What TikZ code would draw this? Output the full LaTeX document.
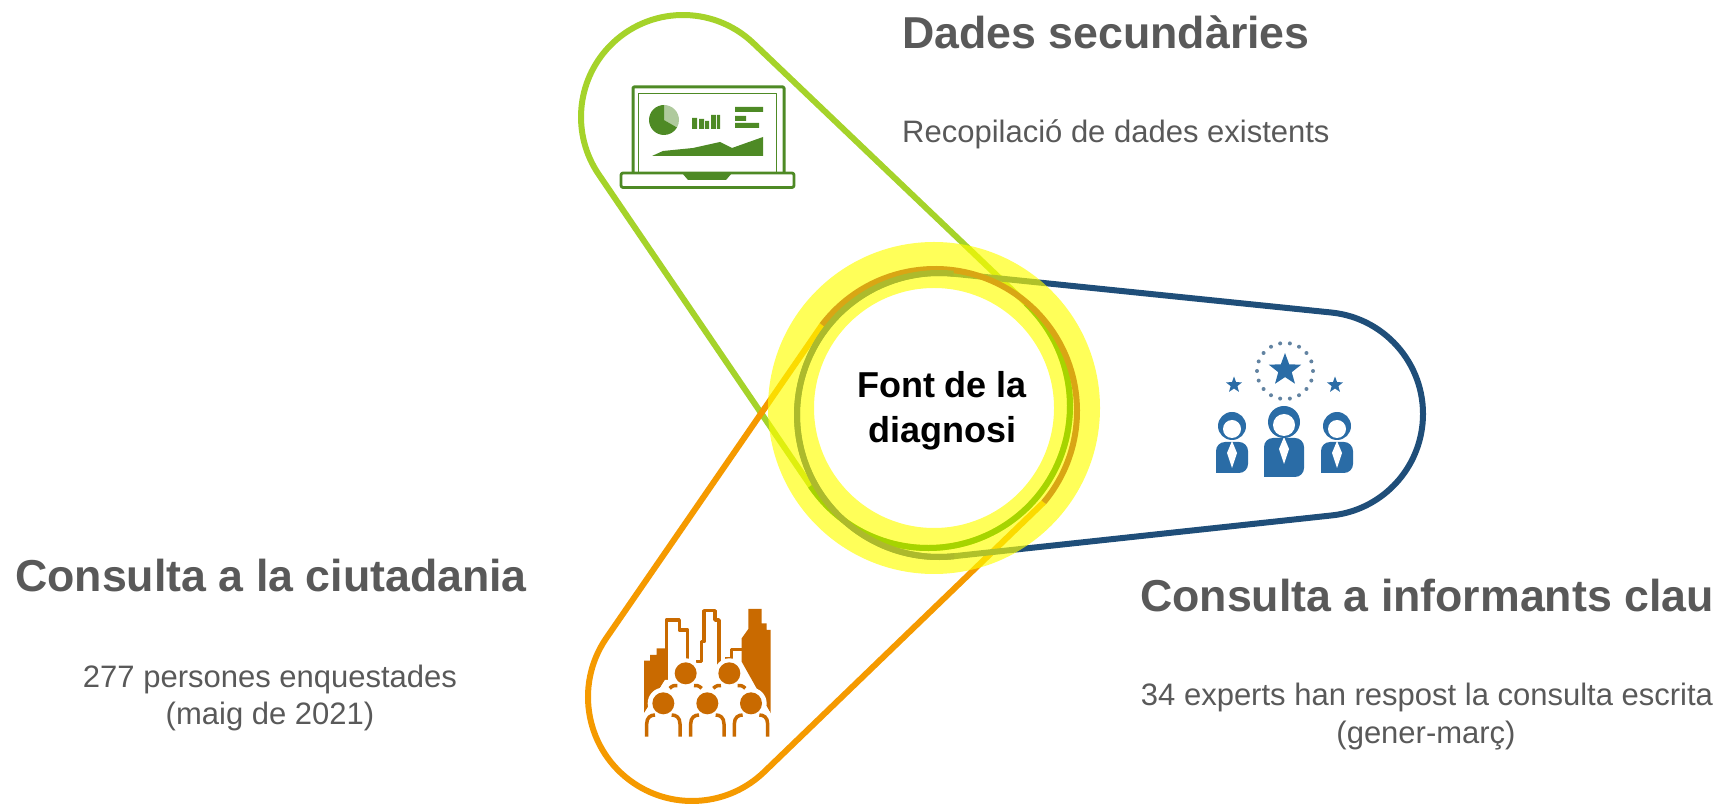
\documentclass[tikz,border=0pt]{standalone}
\usepackage{fontspec}
\setmainfont{Liberation Sans}
\usetikzlibrary{calc,shapes.geometric}
\definecolor{limeline}{HTML}{A5D32A}
\definecolor{limeover}{HTML}{A6D400}
\definecolor{orangeline}{HTML}{F59A00}
\definecolor{orangeover}{HTML}{D9A614}
\definecolor{navyline}{HTML}{1F4E79}
\definecolor{navyover}{HTML}{ADBA2C}
\definecolor{ringfill}{HTML}{FFFF00}
\definecolor{greyfont}{HTML}{595959}
\definecolor{laptopgreen}{HTML}{4E8A25}
\definecolor{expertblue}{HTML}{2A6CA6}
\definecolor{cityorange}{HTML}{C96A00}
\begin{document}
\begin{tikzpicture}[x=1pt,y=1pt,line join=round]
    % `heading' and `body' are the grey texts around the capsules.
    \tikzstyle{heading} = [font=\fontsize{44.7}{50}\selectfont\bfseries,text=greyfont,inner sep=0pt,anchor=base]
    \tikzstyle{body} = [font=\fontsize{31}{37}\selectfont,text=greyfont,inner sep=0pt,anchor=base]
    \tikzstyle{capsule} = [line width=6pt]
    \tikzstyle{expertstar} = [star,star points=5,star point ratio=2.4,fill=expertblue,inner sep=0pt]
    \useasboundingbox (0,0) rectangle (1720,803);
    % Centres of the circle ends.
    \coordinate (green small) at (683,686);
    \coordinate (green big) at (928,397);
    \coordinate (navy small) at (1321,389);
    \coordinate (navy big) at (939,388);
    \coordinate (orange small) at (692,106);
    \coordinate (orange big) at (935,392);
    \coordinate (ring) at (934,395);
    %
    % Capsules.
    \draw[capsule,limeline] ([shift={(46.36:102)}]green small) arc[start angle=46.36,end angle=214.24,radius=102]
        -- ([shift={(214.24:142)}]green big) arc[start angle=214.24,end angle=406.36,radius=142] -- cycle;
    \draw[capsule,orangeline] ([shift={(142.7:142)}]orange big) -- ([shift={(146:104)}]orange small)
        arc[start angle=146,end angle=314,radius=104] -- ([shift={(320:142)}]orange big);
    \draw[capsule,navyline] ([shift={(84.14:102)}]navy small) arc[start angle=84.14,end angle=-83.84,radius=102]
        -- ([shift={(-83.84:142)}]navy big) arc[start angle=276.16,end angle=84.14,radius=142] -- cycle;
    %
    % Yellow ring on top of the lines.
    \fill[ringfill,opacity=0.65,even odd rule] (ring) circle (166) (ring) circle (120);
    %
    % Arcs seen through the ring.
    \draw[capsule,limeover] ([shift={(214.24:142)}]green big) arc[start angle=214.24,end angle=406.36,radius=142];
    \draw[capsule,orangeover] ([shift={(142.7:142)}]orange big) arc[start angle=142.7,end angle=-40,radius=142];
    \draw[capsule,navyover] ([shift={(-83.84:142)}]navy big) arc[start angle=276.16,end angle=84.14,radius=142];
    %
    % Texts.
    \node[font=\fontsize{36}{45}\selectfont\bfseries,align=center,inner sep=0pt] (centre) at (942,392) {Font de la\\diagnosi};
    \node[heading,anchor=base west] (dades) at (902,754) {Dades secundàries};
    \node[body,anchor=base west] (dadesbody) at (902,660) {Recopilació de dades existents};
    \node[heading] (ciutadania) at (271,211) {Consulta a la ciutadania};
    \node[body] (ciutadaniabody) at (270,116) {277 persones enquestades};
    \node[body] (ciutadaniabody2) at (270,79) {(maig de 2021)};
    \node[heading] (informants) at (1427,191) {Consulta a informants clau};
    \node[body] (informantsbody) at (1427,98) {34 experts han respost la consulta escrita};
    \node[body] (informantsbody2) at (1426,60) {(gener-març)};
    %
    % Laptop icon.
    \begin{scope}[laptopgreen]
        \draw[line width=3pt,rounded corners=1pt] (633,630) -- (633,716) -- (784,716) -- (784,630);
        \draw[line width=1pt] (638.5,630) -- (638.5,709) -- (776.5,709) -- (776.5,630);
        \draw[line width=2.8pt,rounded corners=2pt,fill=white] (621,630) rectangle (794,615.5);
        \fill (682,630) -- (732,630) -- (726,623) -- (688,623) -- cycle;
        % Pie.
        \fill (664,683) -- (664,698) arc[start angle=90,end angle=330,radius=15] -- cycle;
        \fill[opacity=0.45] (664,683) -- (664,698) arc[start angle=90,end angle=-30,radius=15] -- cycle;
        % Bars.
        \fill (692,674) rectangle (697,685) (699,674) rectangle (704,684) (705,674) rectangle (709,682)
              (711,674) rectangle (716,688) (717,674) rectangle (720,688);
        % Lines of text.
        \fill (735,696) rectangle (763,691) (735,687) rectangle (746,682) (735,680) rectangle (759,675);
        % Area chart.
        \fill (652,647) -- (663,652) -- (693,655) -- (720,661) -- (732,655) -- (763,666) -- (763,647) -- cycle;
    \end{scope}
    %
    % Experts icon.
    \begin{scope}[expertblue]
        \node[expertstar,minimum size=34pt] (bigstar) at (1285,433) {};
        \node[expertstar,minimum size=17pt] (leftstar) at (1234,418) {};
        \node[expertstar,minimum size=17pt] (rightstar) at (1335,418) {};
        \foreach \a in {0,20,...,340} { \fill[navyline!70!white] ([shift={(\a:28)}]1285,432) circle (2); }
        % Persons.
        \foreach \x/\t/\b/\w/\r in {1232/361/330/16/14,1284/365/326/20/16,1337/361/330/16/14} {
            \fill[rounded corners=9pt] (\x-\w,\b) -- (\x-\w,\t) -- (\x+\w,\t) -- (\x+\w,\b) [sharp corners] -- cycle;
            \fill[white] (\x,\t+1) -- (\x+5,\t-11) -- (\x,\t-26) -- (\x-5,\t-11) -- cycle;
            \fill (\x,\t+16) circle (\r);
            \fill[white] (\x,\t+13) circle (\r-5);
        }
    \end{scope}
    %
    % City icon.
    \begin{scope}[cityorange,shift={(644,194)},x=0.3333pt,y=-0.3333pt]
        \fill (0,155) -- (18,155) -- (18,138) -- (38,138) -- (38,118) -- (63,118) -- (63,213) -- (0,313) -- cycle;
        \fill (293,158) -- (293,88) -- (313,60) -- (313,0) -- (353,0) -- (353,43) -- (368,43) -- (368,63) -- (380,63)
              -- (380,313) -- cycle;
        \draw[line width=3.5pt] (67,213) -- (67,33) -- (106,33) -- (106,63) -- (131,63) -- (131,158);
        \draw[line width=3.5pt] (156,158) -- (173,158) -- (173,98) -- (180,98) -- (180,5) -- (213,5) -- (213,33) -- (225,33) -- (225,168);
        \draw[line width=3.5pt] (243,148) -- (263,148) -- (263,121) -- (293,121);
        % Upper row of people.
        \foreach \x in {125,256} {
            \fill[white] (\x,193) circle (45);
        }
        \fill[white] (0,313) -- (63,213) -- (318,213) -- (380,313) -- (380,383) -- (0,383) -- cycle;
        \foreach \x in {58,190,321} {
            \fill[white] (\x,283) circle (47);
        }
        \foreach \x in {125,256} {
            \draw[line width=3.5pt] (\x-48,238) .. controls (\x-40,230) and (\x-32,228) .. (\x-25,230);
            \draw[line width=3.5pt] (\x+48,238) .. controls (\x+40,230) and (\x+32,228) .. (\x+25,230);
            \fill (\x,193) circle (33);
        }
        % Lower row of people.
        \foreach \x in {58,190,321} {
            \fill (\x,283) circle (33);
            \draw[line width=3.5pt] (\x-50,383) -- (\x-50,345) .. controls (\x-50,325) and (\x-38,318) .. (\x-25,318);
            \draw[line width=3.5pt] (\x+50,383) -- (\x+50,345) .. controls (\x+50,325) and (\x+38,318) .. (\x+25,318);
        }
    \end{scope}
\end{tikzpicture}
\end{document}
